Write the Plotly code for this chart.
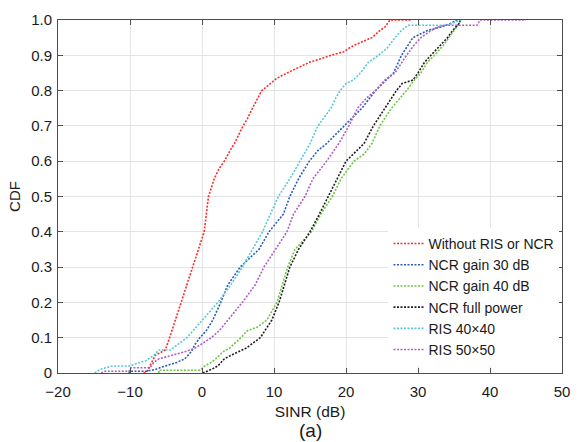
import plotly.graph_objects as go

# ---------------- data ----------------
red_x = [-8.1, -7.6, -6.5, -5.1, -4.5, -2.9, -1.2, -0.5, 0.3, 0.9, 1.7, 2.4, 3.1, 3.9, 4.5, 5.7, 6.3, 7.0,
         8.3, 9.5, 10.4, 11.8, 12.9, 13.8, 14.9, 16.5, 17.9, 19.7, 20.4, 21.3, 22.4, 23.6, 24.7, 25.4, 26.1, 29.1]
red_y = [0, 0.005, 0.05, 0.065, 0.1, 0.2, 0.3, 0.35, 0.4, 0.5, 0.55, 0.58, 0.6, 0.63, 0.65, 0.7, 0.72, 0.75,
         0.8, 0.82, 0.835, 0.85, 0.86, 0.87, 0.88, 0.89, 0.9, 0.91, 0.92, 0.93, 0.94, 0.95, 0.97, 0.98, 1.0, 1.0]

blue_x = [-10.1, -10.1, -7.8, -6.5, -5.1, -3.5, -2.4, -1.5, -1.0, -0.3, 0.6, 1.5, 2.6, 3.6, 5.3, 7.9, 9.3,
          11.3, 12.2, 13.4, 14.9, 16.1, 17.3, 19.7, 22.2, 24.1, 26.6, 27.7, 28.6, 29.3, 31.3, 33.2, 34.5, 35.4]
blue_y = [0, 0.005, 0.005, 0.01, 0.02, 0.03, 0.04, 0.06, 0.08, 0.1, 0.12, 0.15, 0.2, 0.25, 0.3, 0.35, 0.4,
          0.45, 0.5, 0.55, 0.6, 0.63, 0.65, 0.7, 0.75, 0.8, 0.85, 0.9, 0.93, 0.95, 0.97, 0.98, 0.99, 1.0]

green_x = [-6.0, -6.0, -0.3, 0.4, 1.3, 1.9, 2.9, 3.8, 5.4, 6.3, 7.7, 9.0, 10.4, 11.1, 11.9, 12.9, 15.2, 16.5,
           18.1, 19.3, 21.1, 22.5, 23.6, 24.7, 26.3, 28.4, 29.5, 30.4, 31.3, 32.3, 33.6, 34.3, 35.0, 35.7, 35.9]
green_y = [0, 0.008, 0.008, 0.02, 0.03, 0.04, 0.06, 0.07, 0.1, 0.12, 0.13, 0.15, 0.2, 0.25, 0.3, 0.35, 0.4, 0.45,
           0.5, 0.55, 0.6, 0.62, 0.65, 0.7, 0.75, 0.8, 0.83, 0.85, 0.88, 0.9, 0.93, 0.95, 0.97, 0.99, 1.0]

black_x = [0.1, 1.3, 2.2, 3.1, 4.0, 6.1, 8.1, 9.7, 10.7, 11.5, 12.2, 13.4, 15.0, 16.3, 17.5, 18.8, 20.0, 21.0,
           22.5, 23.8, 25.4, 27.0, 27.8, 29.3, 30.0, 30.9, 31.8, 33.2, 34.1, 34.8, 35.7, 35.9]
black_y = [0, 0.01, 0.02, 0.04, 0.05, 0.07, 0.1, 0.15, 0.2, 0.25, 0.3, 0.35, 0.4, 0.45, 0.5, 0.55, 0.6, 0.62,
           0.65, 0.7, 0.75, 0.8, 0.82, 0.83, 0.85, 0.88, 0.9, 0.93, 0.95, 0.97, 0.99, 1.0]

cyan_x = [-14.9, -14.2, -12.4, -10.1, -7.8, -6.7, -6.0, -4.4, -2.1, 0.1, 2.2, 4.0, 5.6, 7.0, 8.4, 9.5, 10.6,
          12.2, 13.6, 15.0, 16.1, 17.9, 18.6, 19.2, 20.0, 21.0, 22.0, 23.1, 24.5, 25.7, 26.8, 27.7, 28.6, 34.0, 36.0]
cyan_y = [0, 0.01, 0.02, 0.02, 0.035, 0.05, 0.065, 0.065, 0.1, 0.15, 0.2, 0.25, 0.3, 0.35, 0.4, 0.45, 0.5,
          0.55, 0.6, 0.65, 0.7, 0.75, 0.78, 0.8, 0.82, 0.83, 0.85, 0.88, 0.9, 0.92, 0.95, 0.97, 0.985, 0.985, 1.0]

purple_x = [-14.0, -13.5, -10.1, -9.9, -7.2, -6.7, -6.0, -4.2, -2.4, -1.0, 1.3, 2.4, 3.6, 5.6, 7.4, 8.6, 10.2,
            11.8, 12.7, 14.3, 15.4, 17.3, 19.0, 20.4, 21.6, 22.9, 24.1, 25.4, 26.8, 27.7, 28.4, 29.5, 30.4, 31.8,
            32.7, 33.6, 38.2, 38.6, 45.0]
purple_y = [0, 0.005, 0.005, 0.015, 0.015, 0.03, 0.04, 0.05, 0.06, 0.07, 0.1, 0.12, 0.15, 0.2, 0.25, 0.3, 0.35,
            0.4, 0.45, 0.5, 0.55, 0.6, 0.65, 0.7, 0.75, 0.78, 0.8, 0.83, 0.85, 0.88, 0.9, 0.93, 0.95, 0.97,
            0.98, 0.985, 0.985, 1.0, 1.0]

names = ["Without RIS or NCR", "NCR gain 30 dB", "NCR gain 40 dB", "NCR full power", "RIS 40×40", "RIS 50×50"]
colors = ["#ff2a2a", "#2a5bbf", "#6cc644", "#202020", "#55c8d8", "#b05ec4"]

x_ticks = [-20, -10, 0, 10, 20, 30, 40, 50]
y_ticks = [0, 0.1, 0.2, 0.3, 0.4, 0.5, 0.6, 0.7, 0.8, 0.9, 1.0]
y_ticktext = ["0", "0.1", "0.2", "0.3", "0.4", "0.5", "0.6", "0.7", "0.8", "0.9", "1.0"]

# ---------------- figure ----------------
series = [(red_x, red_y), (blue_x, blue_y), (green_x, green_y),
          (black_x, black_y), (cyan_x, cyan_y), (purple_x, purple_y)]

fig = go.Figure()
for (xs, ys), nm, c in zip(series, names, colors):
    fig.add_trace(go.Scatter(x=xs, y=ys, mode="lines", name=nm,
                             line=dict(color=c, width=1.6, dash="2px,1.5px")))

font_family = "Liberation Sans, Arial, sans-serif"
axis_common = dict(showline=True, linecolor="#4d4d4d", linewidth=1, mirror="ticks",
                   ticks="inside", ticklen=5, tickcolor="#4d4d4d",
                   showgrid=True, gridcolor="#e3e3e3", gridwidth=1, zeroline=False,
                   tickfont=dict(size=15, color="#1a1a1a", family=font_family))

fig.update_xaxes(range=[-20, 50], tickvals=x_ticks, ticklabelstandoff=5,
                 title=dict(text="SINR (dB)", font=dict(size=15.5, color="#1a1a1a", family=font_family), standoff=7),
                 **axis_common)
fig.update_yaxes(range=[0, 1], tickvals=y_ticks, ticktext=y_ticktext, ticklabelstandoff=2,
                 title=dict(text="CDF", font=dict(size=15, color="#1a1a1a", family=font_family), standoff=6),
                 **axis_common)

fig.add_annotation(text="(a)", xref="paper", yref="paper", x=0.5, y=0, yshift=-57,
                   showarrow=False, font=dict(size=19, color="#1a1a1a", family=font_family),
                   xanchor="center", yanchor="middle")

fig.update_layout(
    width=581, height=442,
    margin=dict(l=58, r=11, t=16, b=69),
    paper_bgcolor="white", plot_bgcolor="white",
    font=dict(family=font_family, color="#1a1a1a"),
    legend=dict(x=0.995, y=0.02, xanchor="right", yanchor="bottom",
                bgcolor="white", borderwidth=0,
                font=dict(size=14, color="#1a1a1a", family=font_family),
                tracegroupgap=0, itemwidth=30),
    showlegend=True,
)

fig.write_html("out.html")
